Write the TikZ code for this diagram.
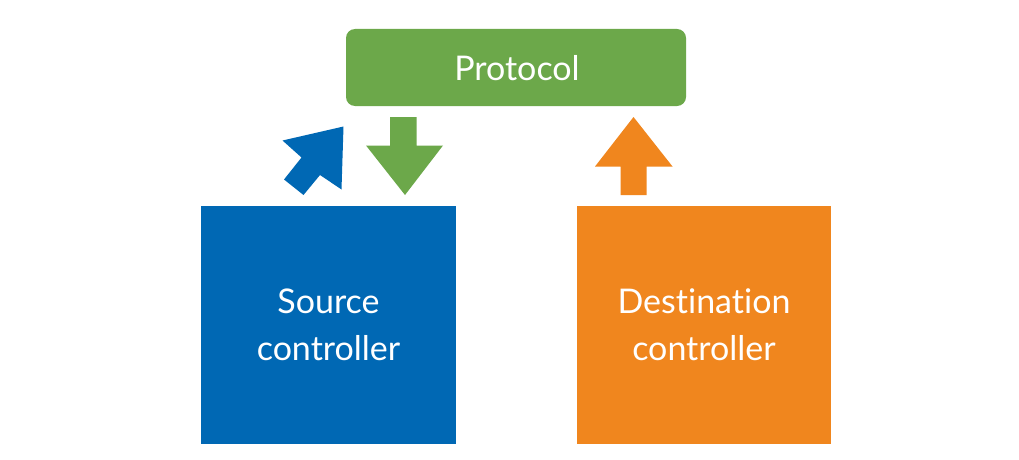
\documentclass[tikz,border=0pt]{standalone}
\usepackage{fontspec}
\setmainfont{Lato}[Ligatures=NoCommon]
\definecolor{pblue}{HTML}{0068B4}
\definecolor{pgreen}{HTML}{6CA84A}
\definecolor{porange}{HTML}{F0861E}
\begin{document}
\begin{tikzpicture}[x=1pt,y=-1pt,
  lbl/.style={text=white,font=\fontsize{34}{47}\selectfont,align=center,inner sep=0pt}]
\useasboundingbox[fill=white] (0,0) rectangle (1019,460);
% Protocol
\fill[pgreen,rounded corners=9pt] (346,29) rectangle (686,106);
\node[lbl] (proto) at (517,68) {Protocol};
% Source
\fill[pblue] (201,206) rectangle (456,444);
\node[lbl] (src) at (328.5,325) {Source\\controller};
% Destination
\fill[porange] (577,206) rectangle (831,444);
\node[lbl] (dst) at (704,325) {Destination\\controller};
% green down arrow
\fill[pgreen] (390,117) -- (416.5,117) -- (416.5,145.5) -- (443,145.5) -- (405,195) -- (366,145.5) -- (390,145.5) -- cycle;
% orange up arrow
\fill[porange] (633.5,117) -- (672.5,166.5) -- (646.5,166.5) -- (646.5,195) -- (620.5,195) -- (620.5,166.5) -- (595,166.5) -- cycle;
% blue diagonal arrow
\fill[pblue] (343.5,126.5) -- (341.5,189.5) -- (320,175) -- (303.5,195) -- (284,179.5) -- (301.5,157.5) -- (282.5,140.5) -- cycle;
\end{tikzpicture}
\end{document}
